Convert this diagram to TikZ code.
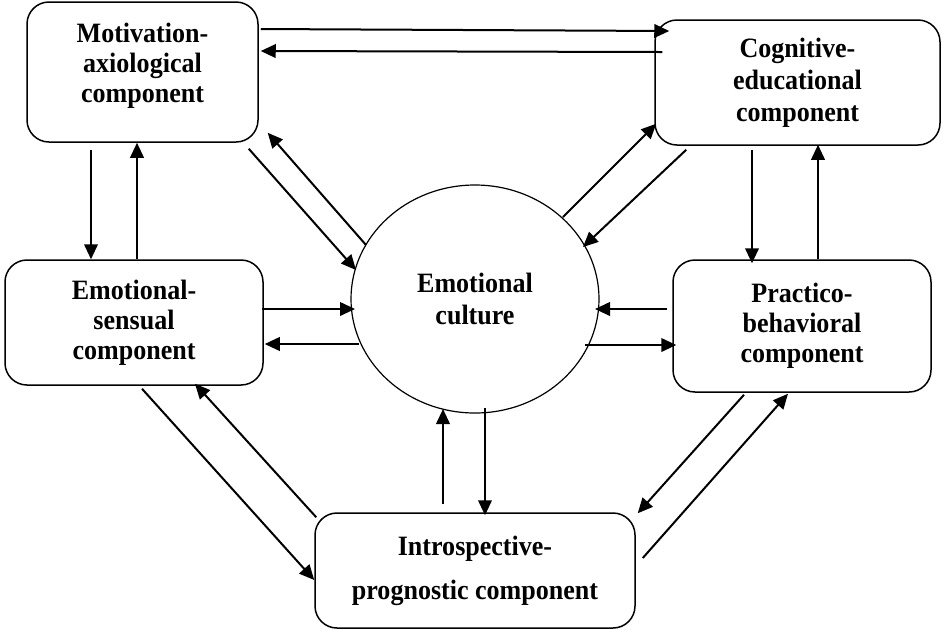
\documentclass[tikz,border=0pt]{standalone}
\usepackage{fontspec}
\setmainfont{Liberation Serif}[FakeStretch=0.93]
\usetikzlibrary{arrows.meta,calc,shapes.geometric}

\begin{document}
\begin{tikzpicture}[x=0.5pt,y=-0.5pt,->,>={Triangle[length=7.5pt,width=6.8pt]},
                    line width=1pt,font=\fontsize{14}{15}\selectfont\bfseries]
      \tikzstyle{comp}=[draw,rounded corners=11pt,line width=0.75pt,align=center,inner sep=2pt]
      \tikzstyle{core}=[draw,ellipse,line width=0.6pt,align=center,inner sep=0pt,
                        minimum width=124pt,minimum height=114pt]

      \useasboundingbox (0,0) rectangle (942,629);

      \node[comp,minimum width=115.5pt,minimum height=70pt]   (mot) at (142.5,72)  {Motivation-\\axiological\\component\\[-6pt]};
      \node[comp,minimum width=142.5pt,minimum height=62.5pt] (cog) at (797.5,82.5) {Cognitive-\\[1pt]educational\\[1pt]component};
      \node[comp,minimum width=129pt,minimum height=62.5pt]   (emo) at (134,322.5) {Emotional-\\sensual\\component};
      \node[comp,minimum width=129pt,minimum height=66pt]     (pra) at (802,326)   {Practico-\\behavioral\\component};
      \node[comp,minimum width=160pt,minimum height=57.5pt]   (int) at (475,570.5) {Introspective-\\[7pt]prognostic component};
      \node[core]                                             (cul) at (475,299)   {Emotional\\[1pt]culture};

      % outer ring
      \path ($(mot.east)+(2,-43)$)          edge ($(cog.west)+(15,-51.5)$)
            ($(cog.west)+(8,-30.5)$)        edge ($(mot.east)+(2,-21)$)
            ($(mot.south)+(-51.5,7)$)       edge ($(emo.north)+(-43,0)$)
            ($(emo.north)+(3,0)$)           edge ($(mot.south)+(-5.5,0)$)
            ($(cog.south)+(-45.5,4)$)       edge ($(pra.north)+(-50,4)$)
            ($(pra.north)+(16,0)$)          edge ($(cog.south)+(20.5,-1)$)
            ($(emo.south)+(8,3)$)           edge ($(int.west)+(0,9.5)$)
            ($(int.north west)+(2,5)$)      edge ($(emo.south)+(61,-2)$)
            ($(pra.south)+(-58,2)$)         edge ($(int.north east)+(2,1)$)
            ($(int.east)+(7,-12.5)$)        edge ($(pra.south)+(-14,1)$);

      % to and from the centre
      \path ($(mot.south east)+(-10,6)$)    edge ($(cul.center)+(-119,-29)$)
            ($(cul.center)+(-109,-54)$)     edge ($(mot.south east)+(9,-10)$)
            ($(cul.center)+(88,-82)$)       edge ($(cog.south west)+(2,-22)$)
            ($(cog.south west)+(32,4)$)     edge ($(cul.center)+(108,-52)$)
            ($(emo.east)+(-2,-13.5)$)       edge ($(cul.center)+(-120,10)$)
            ($(cul.center)+(-116,45)$)      edge ($(emo.east)+(1,21.5)$)
            ($(pra.west)+(-5,-17)$)         edge ($(cul.center)+(120,10)$)
            ($(cul.center)+(110,46)$)       edge ($(pra.west)+(4,19)$)
            ($(int.north)+(-32,-8)$)        edge ($(cul.center)+(-32,110)$)
            ($(cul.center)+(10,109)$)       edge ($(int.north)+(10,3)$);
    \end{tikzpicture}
\end{document}
